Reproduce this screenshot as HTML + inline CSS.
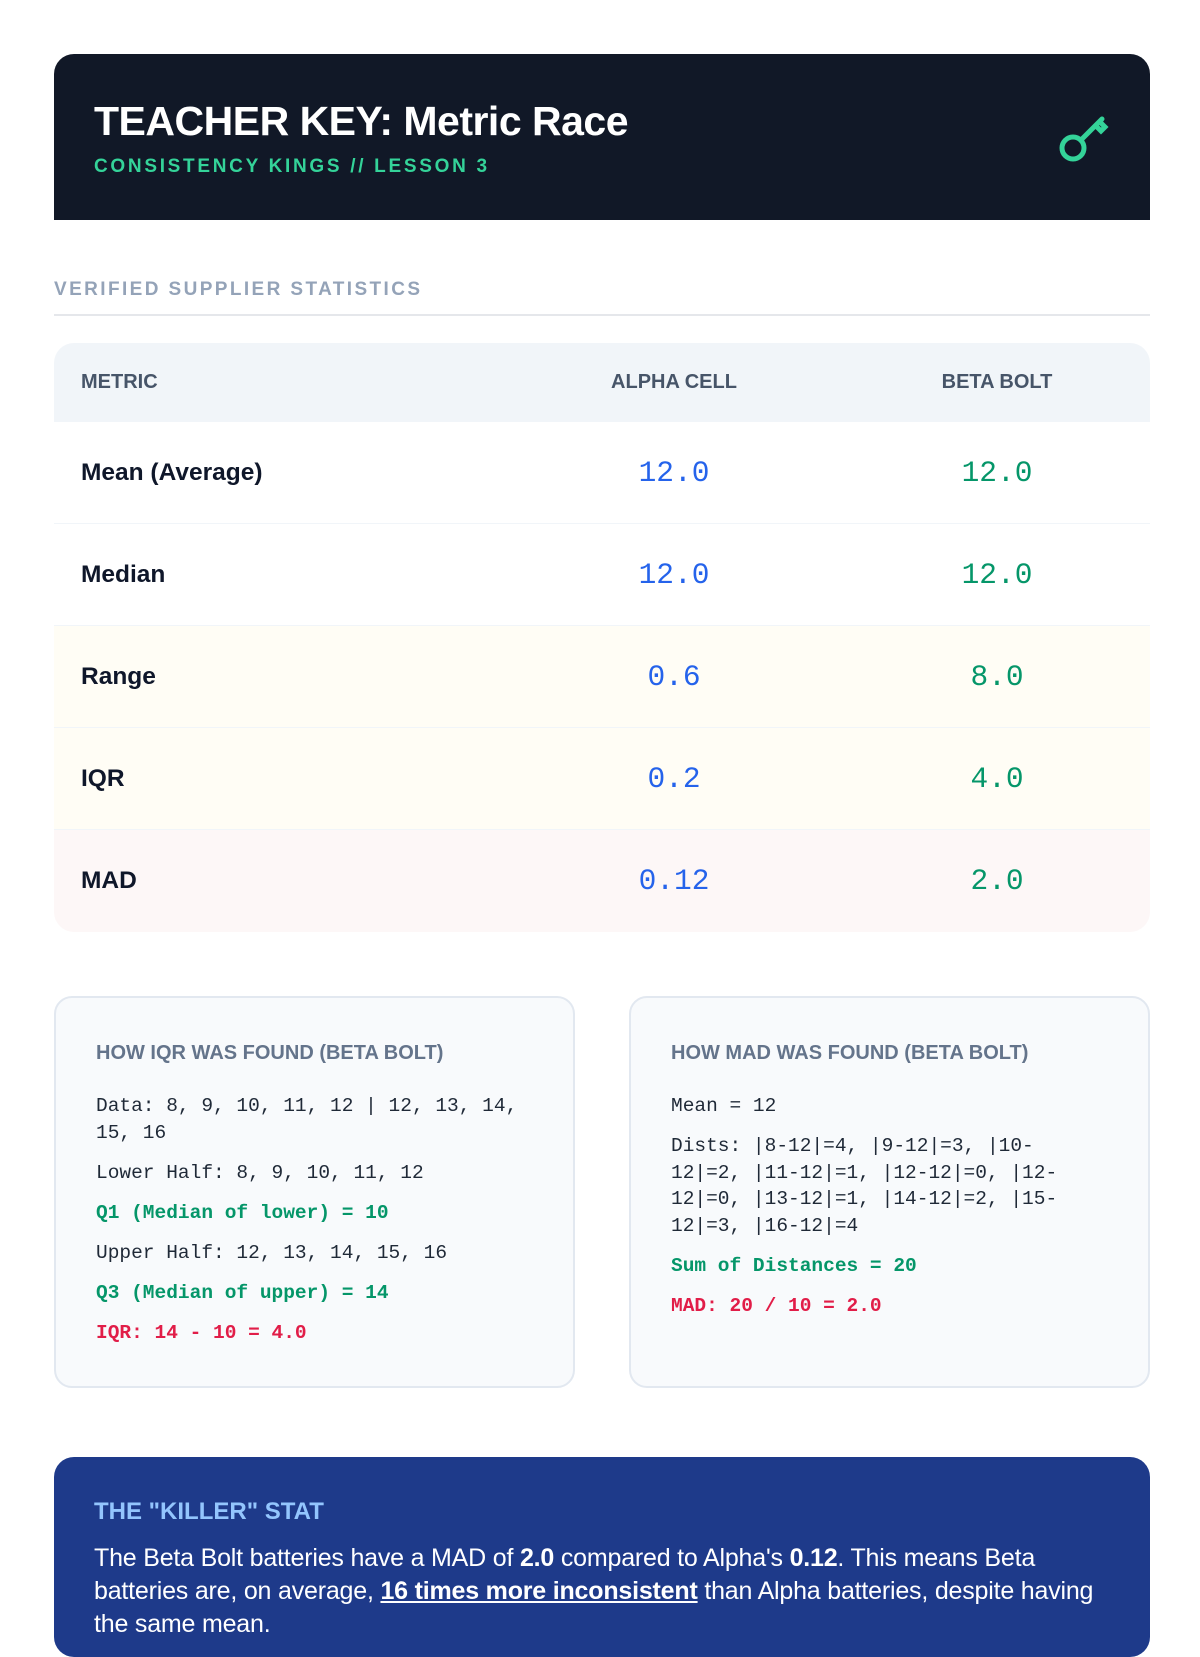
<!DOCTYPE html>
<html><head><meta charset="utf-8"><style>
*{box-sizing:border-box;margin:0;padding:0}
body{width:1200px;height:1600px;overflow:hidden;background:#fff;font-family:"Liberation Sans",sans-serif;color:#0f172a}
.wrap{position:absolute;left:54px;width:1096px}
.hdr{top:54px;height:166px;background:#111827;border-radius:20px 20px 0 0;padding:44px 40px}
.hdr h1{color:#fff;font-size:41px;font-weight:700;letter-spacing:-0.5px;line-height:46px}
.hdr .sub{color:#34d399;font-size:19px;font-weight:700;letter-spacing:2.7px;margin-top:12px}
.sec{top:279px;font-size:19px;font-weight:700;color:#94a3b8;letter-spacing:2.4px;border-bottom:2px solid #e5e7eb;padding-bottom:14px;height:37px}
.tbl{top:343px;border-radius:20px;overflow:hidden}
.row{position:relative;height:102px;border-bottom:1px solid #f1f5f9;display:flex;align-items:center}
.row.h{height:79px;background:#f1f5f9;font-weight:700;color:#475569}
.c1{position:absolute;left:27px;font-size:24.5px;font-weight:700}
.row.h .c1{font-size:20px}
.c2,.c3{position:absolute;width:300px;text-align:center;font-family:"Liberation Mono",monospace;font-size:29.5px}
.c2{left:470px;color:#2563eb}.c3{left:793px;color:#059669}
.row.h .c2,.row.h .c3{font-family:"Liberation Sans",sans-serif;font-size:20px;color:#475569}
.y{background:#fffdf5}.r{background:#fdf7f7}
.box{position:absolute;top:996px;width:521px;height:392px;background:#f8fafc;border:2px solid #e2e8f0;border-radius:18px;padding:44px 50px 44px 40px}
.box h3{font-size:20px;font-weight:700;color:#64748b;margin-bottom:28px}
.box p{font-family:"Liberation Mono",monospace;font-size:19.5px;line-height:26.6px;color:#1f2937;margin-bottom:13.5px}
.g{color:#059669!important;font-weight:700}.rd{color:#e11d48!important;font-weight:700}
.blue{top:1457px;height:200px;background:#1e3a8a;border-radius:20px;padding:41px 24px 41px 40px;color:#fff}
.blue h3{color:#93c5fd;font-size:24px;font-weight:700;margin-bottom:16px}
.blue p{font-size:25px;line-height:33px;letter-spacing:-0.2px}
</style></head><body>
<div class="wrap hdr"><h1>TEACHER KEY: Metric Race</h1><div class="sub">CONSISTENCY KINGS // LESSON 3</div>
<svg style="position:absolute;right:40px;top:58px" width="52" height="52" viewBox="0 0 52 52" fill="none" stroke="#34d399" stroke-width="5" stroke-linecap="round"><circle cx="15" cy="36" r="11"/><path d="M23 28 L44 7"/><path d="M38 14 l5 5 l4 -4 l-5 -5"/></svg></div>
<div class="wrap sec">VERIFIED SUPPLIER STATISTICS</div>
<div class="wrap tbl">
<div class="row h"><span class="c1">METRIC</span><span class="c2">ALPHA CELL</span><span class="c3">BETA BOLT</span></div>
<div class="row"><span class="c1">Mean (Average)</span><span class="c2">12.0</span><span class="c3">12.0</span></div>
<div class="row"><span class="c1">Median</span><span class="c2">12.0</span><span class="c3">12.0</span></div>
<div class="row y"><span class="c1">Range</span><span class="c2">0.6</span><span class="c3">8.0</span></div>
<div class="row y"><span class="c1">IQR</span><span class="c2">0.2</span><span class="c3">4.0</span></div>
<div class="row r" style="border:none"><span class="c1">MAD</span><span class="c2">0.12</span><span class="c3">2.0</span></div>
</div>
<div class="box" style="left:54px"><h3>HOW IQR WAS FOUND (BETA BOLT)</h3>
<p>Data: 8, 9, 10, 11, 12 | 12, 13, 14, 15, 16</p>
<p>Lower Half: 8, 9, 10, 11, 12</p>
<p class="g">Q1 (Median of lower) = 10</p>
<p>Upper Half: 12, 13, 14, 15, 16</p>
<p class="g">Q3 (Median of upper) = 14</p>
<p class="rd">IQR: 14 - 10 = 4.0</p></div>
<div class="box" style="left:629px"><h3>HOW MAD WAS FOUND (BETA BOLT)</h3>
<p>Mean = 12</p>
<p>Dists: |8-12|=4, |9-12|=3, |10-12|=2, |11-12|=1, |12-12|=0, |12-12|=0, |13-12|=1, |14-12|=2, |15-12|=3, |16-12|=4</p>
<p class="g">Sum of Distances = 20</p>
<p class="rd">MAD: 20 / 10 = 2.0</p></div>
<div class="wrap blue"><h3>THE "KILLER" STAT</h3>
<p>The Beta Bolt batteries have a MAD of <b>2.0</b> compared to Alpha's <b>0.12</b>. This means Beta batteries are, on average, <b><u>16 times more inconsistent</u></b> than Alpha batteries, despite having the same mean.</p></div>
</body></html>
